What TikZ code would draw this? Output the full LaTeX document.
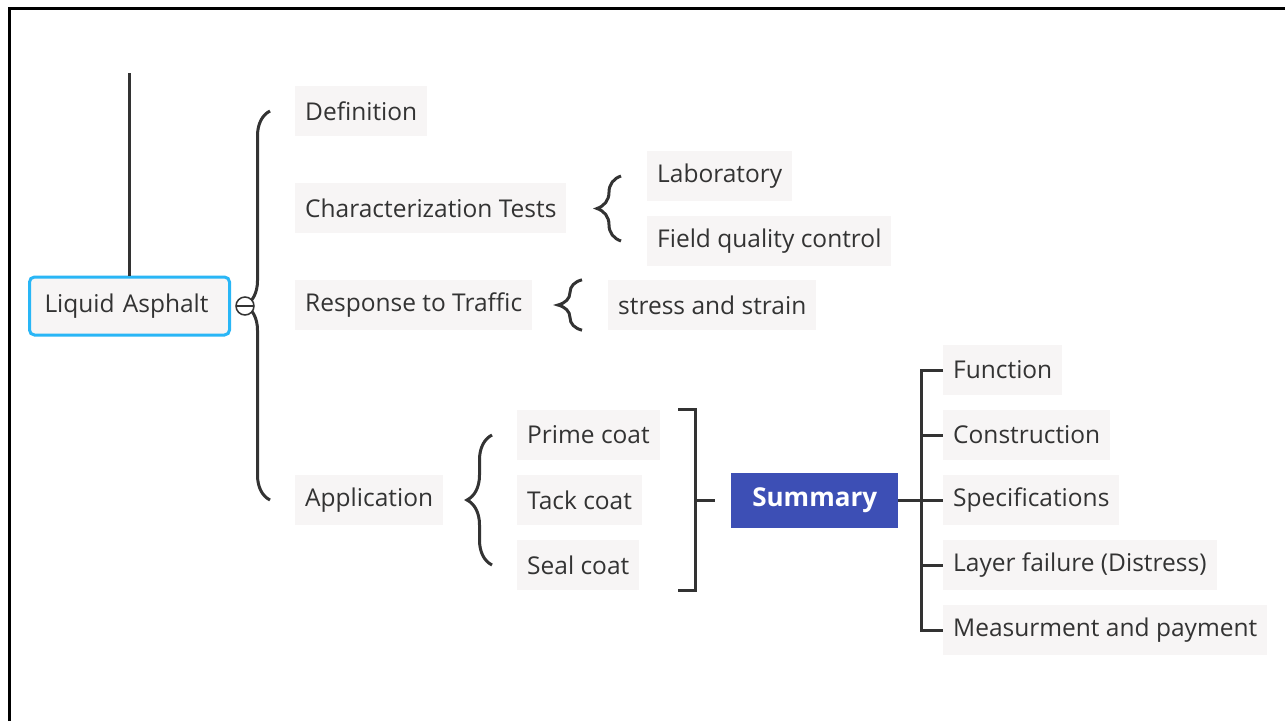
\documentclass[tikz,border=0pt]{standalone}
\usepackage{fontspec}
\setmainfont{Open Sans}
\usepackage{tikz}
\usetikzlibrary{decorations.pathreplacing}
\definecolor{boxgray}{HTML}{F7F5F5}
\definecolor{inkgray}{HTML}{333333}
\definecolor{rootblue}{HTML}{29B6F6}
\definecolor{sumblue}{HTML}{3D4FB5}
\tikzstyle{item} = [rectangle, fill=boxgray, text=inkgray, minimum height=50pt, inner xsep=10pt, anchor=west, font=\fontsize{24.5}{29}\selectfont]
\tikzstyle{rootbox} = [item, draw=rootblue, line width=3pt, rounded corners=5pt, minimum height=58pt, inner xsep=15pt, text width=170pt, align=left]
\tikzstyle{summary} = [rectangle, fill=sumblue, text=white, minimum height=55pt, minimum width=167pt, anchor=west, font=\fontsize{26}{31}\selectfont\bfseries]
\tikzstyle{link} = [line width=3pt, draw=inkgray]
\tikzstyle{curly} = [link, decorate, decoration={brace, amplitude=24pt}]
\tikzstyle{fold} = [circle, draw=inkgray, line width=1.5pt, fill=white, minimum size=18pt, inner sep=0pt]

\begin{document}
\begin{tikzpicture}[x=1pt, y=-1pt]
  \useasboundingbox (0,0) rectangle (1285,721);
  % frame
  \draw[line width=3pt] (9,721) -- (9,8) -- (1285,8);

  % root and first level
  \node[rootbox] (root) at (28,306) {Liquid Asphalt};
  \node[item] (def) at (295,111) {Definition};
  \node[item] (char) at (295,208) {Characterization Tests};
  \node[item] (resp) at (295,305) {Response to Traffic};
  \node[item] (app) at (295,500) {Application};

  % second level
  \node[item] (lab) at (647,176) {Laboratory};
  \node[item] (fqc) at (647,241) {Field quality control};
  \node[item] (stress) at (608,305) {stress and strain};
  \node[item] (prime) at (517,435) {Prime coat};
  \node[item] (tack) at (517,500) {Tack coat};
  \node[item] (seal) at (517,565) {Seal coat};

  % summary branch
  \node[summary] (sum) at (731,500) {Summary};
  \node[item] (func) at (943,370) {Function};
  \node[item] (cons) at (943,435) {Construction};
  \node[item] (spec) at (943,500) {Specifications};
  \node[item] (fail) at (943,565) {Layer failure (Distress)};
  \node[item] (meas) at (943,630) {Measurment and payment};

  \coordinate (bk) at (695,500);
  \coordinate (bar) at (921,500);

  \draw[link] (root.north) -- ++(0,-203);
  \draw[curly, decoration={amplitude=25pt}] ([xshift=-25pt]app.west) -- ([xshift=-25pt]def.west);
  \node[fold] (minus) at (245,306) {};
  \draw[line width=1.5pt, draw=inkgray] ([xshift=2pt]minus.west) -- ([xshift=-2pt]minus.east);

  \draw[curly] ([xshift=-26pt]fqc.west) -- ([xshift=-26pt]lab.west);
  \draw[curly] ([xshift=-26pt]stress.south west) -- ([xshift=-26pt]stress.north west);
  \draw[curly, decoration={amplitude=25pt}] ([xshift=-25pt]seal.west) -- ([xshift=-25pt]prime.west);

  % bracket into summary
  \draw[link] ([xshift=-17pt]bk |- prime.north) -- (bk |- prime.north) -- (bk |- seal.south) -- ++(-17,0);
  \draw[link] (bk) -- ([xshift=-16pt]sum.west);

  % summary list
  \draw[link] (sum.east) -- (bar);
  \draw[link] (func.west) -- (bar |- func.west) -- (bar |- meas.west) -- (meas.west);
  \foreach \n in {cons, spec, fail}
    \draw[link] (bar |- \n.west) -- (\n.west);
\end{tikzpicture}
\end{document}
